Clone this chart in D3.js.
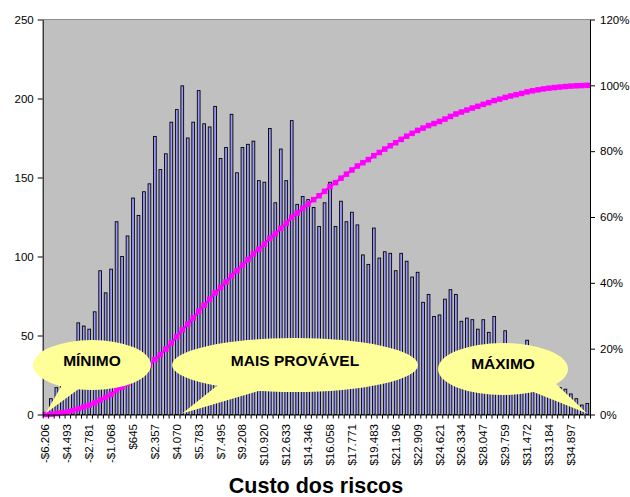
<!DOCTYPE html>
<html>
<head>
<meta charset="utf-8">
<script src="https://cdn.jsdelivr.net/npm/d3@7"></script>
<style>
  body { margin: 0; background: #fff; }
  svg { display: block; }
  text { font-family: Arial, "Liberation Sans", sans-serif; }
</style>
</head>
<body>
<svg id="chart" width="630" height="497"></svg>
<script>
// Frequency of each cost bin (100 bins)
const counts = [
  1, 10, 17, 23, 30, 38, 58, 56, 54, 65,
  91, 77, 92, 122, 100, 113, 137, 126, 141, 146,
  176, 155, 165, 185, 193, 208, 175, 185, 205, 184,
  182, 195, 162, 169, 190, 153, 169, 171, 173, 148,
  147, 181, 134, 168, 148, 186, 133, 138, 136, 131,
  119, 134, 147, 119, 135, 122, 128, 120, 101, 95,
  118, 99, 103, 102, 91, 102, 97, 87, 90, 71,
  76, 62, 63, 73, 79, 76, 59, 61, 60, 54,
  60, 52, 62, 44, 53, 42, 40, 38, 47, 34,
  30, 27, 22, 18, 17, 16, 13, 10, 6, 7
];

// Bin labels shown on every 4th bin
const tickLabels = [
  "-$6.206", "-$4.493", "-$2.781", "-$1.068", "$645", "$2.357", "$4.070",
  "$5.783", "$7.495", "$9.208", "$10.920", "$12.633", "$14.346", "$16.058",
  "$17.771", "$19.483", "$21.196", "$22.909", "$24.621", "$26.334",
  "$28.047", "$29.759", "$31.472", "$33.184", "$34.897"
];
const labelEvery = 4;

const countTicks = [0, 50, 100, 150, 200, 250];
const pctTicks = [0, 0.2, 0.4, 0.6, 0.8, 1.0, 1.2];
const axisTitle = "Custo dos riscos";
const calloutLabels = ["MÍNIMO", "MAIS PROVÁVEL", "MÁXIMO"];

// ---- layout ----
const plot = { left: 42.7, right: 590, top: 19.5, bottom: 414.5 };
const svg = d3.select("#chart");
const idx = d3.range(counts.length);

const x = d3.scaleBand().domain(idx).range([plot.left, plot.right])
  .paddingInner(0.5).paddingOuter(0.25);
const xEdge = d3.scaleLinear().domain([0, counts.length]).range([plot.left, plot.right]);
const yL = d3.scaleLinear().domain([0, 250]).range([plot.bottom, plot.top]);
const yR = d3.scaleLinear().domain([0, 1.2]).range([plot.bottom, plot.top]);
const cx = i => x(i) + x.bandwidth() / 2;

// cumulative share of runs
const total = d3.sum(counts);
const cum = Array.from(d3.cumsum(counts), v => v / total);

svg.append("rect").attr("width", 630).attr("height", 497).attr("fill", "#fff");

// plot background
svg.append("rect")
  .attr("x", plot.left).attr("y", plot.top)
  .attr("width", plot.right - plot.left).attr("height", plot.bottom - plot.top)
  .attr("fill", "#c0c0c0");
svg.append("line")
  .attr("x1", plot.left).attr("x2", plot.right)
  .attr("y1", plot.top).attr("y2", plot.top)
  .attr("stroke", "#8c8c8c").attr("stroke-width", 1);

// histogram bars
svg.append("g").selectAll("rect").data(idx).join("rect")
  .attr("x", i => x(i))
  .attr("y", i => yL(counts[i]))
  .attr("width", x.bandwidth())
  .attr("height", i => yL(0) - yL(counts[i]))
  .attr("fill", "#9999ff")
  .attr("stroke", "#000")
  .attr("stroke-width", 0.9);

// cumulative curve
svg.append("path")
  .datum(idx)
  .attr("fill", "none")
  .attr("stroke", "#ff00ff")
  .attr("stroke-width", 2.5)
  .attr("d", d3.line().x(i => cx(i)).y(i => yR(cum[i])));
const mk = 5.5;
svg.append("g").selectAll("rect").data(idx).join("rect")
  .attr("x", i => cx(i) - mk / 2)
  .attr("y", i => yR(cum[i]) - mk / 2)
  .attr("width", mk).attr("height", mk)
  .attr("fill", "#ff00ff");

// axes
const styleAxis = g => {
  g.selectAll(".domain").attr("stroke", "#000");
  g.selectAll(".tick line").attr("stroke", "#000");
  g.selectAll("text").attr("font-size", 11.5).attr("fill", "#000")
    .attr("font-family", 'Arial, "Liberation Sans", sans-serif');
};

svg.append("g")
  .attr("transform", `translate(${plot.left},0)`)
  .call(d3.axisLeft(yL).tickValues(countTicks).tickSize(5).tickSizeOuter(0).tickPadding(4))
  .call(styleAxis);

svg.append("g")
  .attr("transform", `translate(${plot.right},0)`)
  .call(d3.axisRight(yR).tickValues(pctTicks).tickFormat(d3.format(".0%"))
    .tickSize(5).tickSizeOuter(0).tickPadding(5))
  .call(styleAxis);

svg.append("g")
  .attr("transform", `translate(0,${plot.bottom})`)
  .call(d3.axisBottom(xEdge).tickValues(d3.range(0, counts.length + 1))
    .tickFormat("").tickSize(4).tickSizeOuter(0))
  .call(styleAxis);

const labelAxis = svg.append("g")
  .attr("transform", `translate(0,${plot.bottom})`)
  .call(d3.axisBottom(x)
    .tickValues(idx.filter(i => i % labelEvery === 0))
    .tickFormat(i => tickLabels[i / labelEvery])
    .tickSize(0).tickSizeOuter(0))
  .call(styleAxis);
labelAxis.select(".domain").remove();
labelAxis.selectAll("text")
  .attr("transform", "rotate(-90)")
  .attr("text-anchor", "end")
  .attr("x", -9.5).attr("y", 0).attr("dy", "0.35em");

// axis title
svg.append("text")
  .attr("x", 316).attr("y", 493)
  .attr("text-anchor", "middle")
  .attr("font-size", 21.5).attr("font-weight", "bold")
  .text(axisTitle);

// oval callouts pointing at the minimum, the most likely bin and the maximum
const modeIdx = d3.maxIndex(counts);
const callouts = [
  { text: calloutLabels[0], at: 0, ex: 92, ey: 365, rx: 59, ry: 25, b1: [62, 385], b2: [80, 388], ty: 366 },
  { text: calloutLabels[1], at: modeIdx, ex: 295, ey: 365, rx: 123, ry: 27, b1: [218, 385], b2: [262, 390], ty: 366 },
  { text: calloutLabels[2], at: counts.length - 1, ex: 503, ey: 369, rx: 65, ry: 26, b1: [531, 391], b2: [555, 383], ty: 368.5 }
];
const cg = svg.append("g");
callouts.forEach(c => {
  const tipX = cx(c.at), tipY = yL(0) - 1;
  const d = `M${c.ex - c.rx},${c.ey} A${c.rx},${c.ry} 0 1,0 ${c.ex + c.rx},${c.ey} ` +
            `A${c.rx},${c.ry} 0 1,0 ${c.ex - c.rx},${c.ey} Z ` +
            `M${c.b1[0]},${c.b1[1]} L${tipX},${tipY} L${c.b2[0]},${c.b2[1]} Z`;
  cg.append("path").attr("d", d).attr("fill", "#ffff99");
  cg.append("text")
    .attr("x", c.ex).attr("y", c.ty)
    .attr("text-anchor", "middle")
    .attr("font-size", 15.5).attr("font-weight", "bold")
    .attr("fill", "#000")
    .text(c.text);
});
</script>
</body>
</html>
